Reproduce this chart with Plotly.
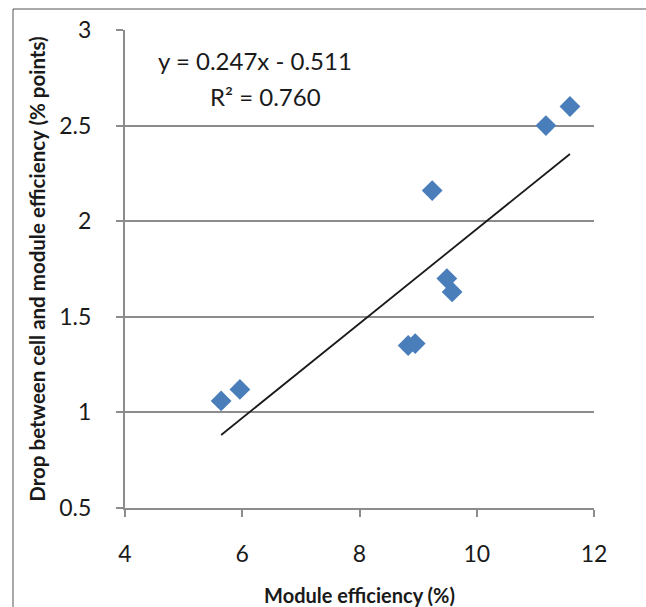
import plotly.graph_objects as go

module_eff = [5.64, 5.96, 8.83, 8.95, 9.24, 9.49, 9.58, 11.18, 11.59]
drop_pts = [1.06, 1.12, 1.35, 1.36, 2.16, 1.70, 1.63, 2.50, 2.60]
slope = 0.247
intercept = -0.511
r2 = 0.760
x_ticks = [4, 6, 8, 10, 12]
y_ticks = [0.5, 1, 1.5, 2, 2.5, 3]

xmin, xmax = min(module_eff), max(module_eff)
trend_x = [xmin, xmax]
trend_y = [slope * v + intercept for v in trend_x]

FONT = "Lato, 'Open Sans', sans-serif"

fig = go.Figure()
fig.add_trace(go.Scatter(x=trend_x, y=trend_y, mode="lines",
                         line=dict(color="#1a1a1a", width=1.8), showlegend=False))
fig.add_trace(go.Scatter(x=module_eff, y=drop_pts, mode="markers",
                         marker=dict(symbol="diamond", size=16, color="#4a7ebb",
                                     line=dict(width=0)), showlegend=False))

fig.update_layout(
    width=646, height=607,
    margin=dict(l=125, r=52, t=30, b=99),
    paper_bgcolor="white", plot_bgcolor="white",
    font=dict(family=FONT, color="#1a1a1a"),
    xaxis=dict(range=[4, 12], tickvals=x_ticks, showgrid=False, automargin=False,
               showline=True, linecolor="#8c8c8c", linewidth=2,
               ticks="outside", ticklen=7, tickwidth=2, tickcolor="#8c8c8c",
               ticklabelstandoff=17,
               tickfont=dict(size=23, family=FONT),
               title=dict(text="<b>Module efficiency (%)</b>", font=dict(size=20, family=FONT),
                          standoff=24),
               zeroline=False),
    yaxis=dict(range=[0.5, 3], tickvals=y_ticks, showgrid=True, automargin=False,
               gridcolor="#8c8c8c", gridwidth=2,
               showline=True, linecolor="#8c8c8c", linewidth=2,
               ticks="outside", ticklen=7, tickwidth=2, tickcolor="#8c8c8c",
               ticklabelstandoff=20,
               tickfont=dict(size=23, family=FONT),
               title=dict(text="<b>Drop between cell and module efficiency (% points)</b>",
                          font=dict(size=20.5, family=FONT), standoff=8),
               zeroline=False),
    shapes=[dict(type="rect", xref="paper", yref="paper",
                 x0=(13 - 125) / 469, x1=(700 - 125) / 469,
                 y0=-(700 - 508) / 478, y1=(508 - 9) / 478,
                 line=dict(color="#555555", width=1), layer="below")],
    annotations=[
        dict(text="y = 0.247x - 0.511", xref="paper", yref="paper",
             x=(255 - 125) / 469, y=(508 - 60) / 478, showarrow=False,
             xanchor="center", yanchor="middle",
             font=dict(size=24, family=FONT)),
        dict(text="R² = 0.760", xref="paper", yref="paper",
             x=(265 - 125) / 469, y=(508 - 97) / 478, showarrow=False,
             xanchor="center", yanchor="middle",
             font=dict(size=24, family=FONT)),
    ],
)

fig.write_html("out.html")
